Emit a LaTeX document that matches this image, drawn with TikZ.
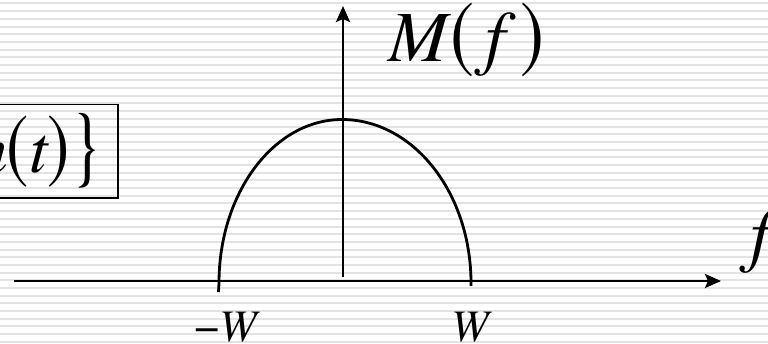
\documentclass[tikz,border=0pt]{standalone}
\usepackage{fontspec}
\setmainfont{texgyretermes}[Extension=.otf, UprightFont=*-regular, ItalicFont=*-italic, BoldFont=*-bold, BoldItalicFont=*-bolditalic]
\usetikzlibrary{arrows.meta}
\newcommand\tallglyph[2]{\scalebox{1}[#1]{#2}}
\tikzset{
  stripe/.style={draw=black!11, line width=2pt},
  axisline/.style={line width=2.9pt, -{Stealth[length=16pt,width=14pt,inset=3pt]}},
  curveline/.style={line width=2.8pt},
  bigtext/.style={font=\fontsize{72}{74}\selectfont, inner sep=0pt},
  boxtext/.style={font=\fontsize{67}{69}\selectfont},
  smalltext/.style={font=\fontsize{45}{47}\selectfont, inner sep=0pt}
}
\begin{document}
\begin{tikzpicture}[x=1pt,y=-1pt]
\useasboundingbox (0,0) rectangle (768,344);
\clip (0,0) rectangle (768,344);
\fill[white] (0,0) rectangle (768,344);
\foreach \k in {0,...,44} {
  \draw[stripe] (0,{3.5+7.69*\k}) -- (768,{3.5+7.69*\k});
}
% box label
\node[boxtext, draw, line width=1.8pt, anchor=east, minimum height=93.5pt,
      inner xsep=15pt, inner ysep=0pt] (box) at (119,151.25)
  {\itshape m\kern-1pt\tallglyph{1.25}{\upshape(}t\tallglyph{1.25}{\upshape)}\kern1pt\tallglyph{1.3}{\upshape\}}};
% axes
\coordinate (xs) at (14,281);
\coordinate (xe) at (721,281);
\coordinate (ys) at (343,277);
\coordinate (ye) at (343,6);
\draw[axisline] (xs) -- (xe);
\draw[axisline] (ys) -- (ye);
% curve
\coordinate (cl) at (218.5,292);
\draw[curveline] (cl) -- (219,283)
  arc[start angle=180, end angle=270, x radius=123, y radius=163.5]
  arc[start angle=270, end angle=360, x radius=129, y radius=163.5]
  -- ++(0,3);
% labels
\node[bigtext, anchor=base] (mf) at (466,62)
  {\itshape M\kern2pt\tallglyph{1.2}{\upshape(}\,f\,\kern2pt\tallglyph{1.2}{\upshape)}};
\node[bigtext, anchor=base west] (fl) at (750,259) {\itshape f};
\node[smalltext, anchor=base] (mw) at (226,341.5) {−\itshape W};
\node[smalltext, anchor=base] (pw) at (470,341.5) {\itshape W};
\end{tikzpicture}
\end{document}
